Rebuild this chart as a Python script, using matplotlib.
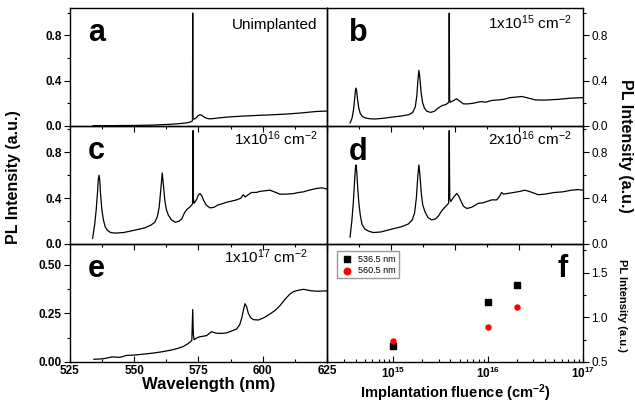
import matplotlib
matplotlib.use('Agg')
import matplotlib.pyplot as plt
from matplotlib.ticker import MultipleLocator, NullFormatter, LogLocator, FixedLocator

plt.rcParams['font.family'] = ['Liberation Sans', 'DejaVu Sans']
plt.rcParams['mathtext.default'] = 'regular'

# PL spectra: wavelength (nm), intensity (a.u.)
wl_a = [534.0, 540.0, 545.0, 551.0, 555.0, 558.0, 561.0, 564.0, 566.5, 568.5, 570.5, 571.8,
        572.65, 572.75, 572.85, 573.2, 574.0, 574.8, 575.6, 576.4, 577.4, 578.5, 579.5, 581.0,
        583.0, 587.0, 592.0, 597.6, 603.0, 609.0, 615.0, 618.0, 621.0, 625.0]
pl_a = [0.003, 0.003, 0.004, 0.005, 0.007, 0.009, 0.012, 0.015, 0.019, 0.023, 0.028, 0.035,
        0.045, 0.995, 0.070, 0.060, 0.070, 0.090, 0.100, 0.092, 0.075, 0.066, 0.063, 0.066,
        0.072, 0.080, 0.087, 0.093, 0.098, 0.105, 0.115, 0.122, 0.128, 0.132]

wl_b = [534.0, 534.8, 535.4, 535.8, 536.1, 536.3, 536.6, 536.9, 537.4, 538.0, 538.8, 540.0,
        542.0, 544.0, 547.0, 550.3, 554.0, 557.0, 558.5, 559.5, 560.1, 560.5, 560.9, 561.3,
        561.7, 562.3, 563.0, 564.0, 565.5, 567.0, 568.5, 570.0, 571.5, 572.6, 572.75, 572.9,
        573.2, 574.5, 575.6, 576.8, 578.3, 580.0, 582.0, 585.0, 587.0, 589.3, 592.0, 594.0,
        596.5, 599.0, 601.0, 603.0, 606.3, 610.0, 615.4, 620.0, 625.0]
pl_b = [0.026, 0.07, 0.15, 0.24, 0.31, 0.334, 0.31, 0.24, 0.16, 0.11, 0.085, 0.07,
        0.063, 0.062, 0.068, 0.078, 0.088, 0.10, 0.12, 0.17, 0.27, 0.40, 0.49, 0.42,
        0.31, 0.21, 0.16, 0.13, 0.12, 0.13, 0.16, 0.18, 0.19, 0.21, 0.995, 0.23,
        0.21, 0.225, 0.24, 0.22, 0.195, 0.195, 0.20, 0.215, 0.21, 0.225, 0.23, 0.235,
        0.25, 0.255, 0.26, 0.25, 0.23, 0.228, 0.235, 0.245, 0.25]

wl_c = [533.8, 534.6, 535.2, 535.7, 536.0, 536.3, 536.6, 536.9, 537.4, 538.0, 538.7, 539.5,
        540.8, 542.5, 545.8, 548.0, 551.0, 554.0, 556.5, 558.0, 559.0, 559.7, 560.3, 560.9,
        561.4, 561.9, 562.5, 563.3, 564.5, 566.0, 567.5, 568.5, 569.5, 570.4, 571.5, 572.7,
        572.85, 573.0, 573.3, 574.3, 575.0, 575.6, 576.3, 577.0, 578.0, 579.5, 581.0, 582.5,
        584.0, 586.0, 588.0, 589.8, 591.5, 592.4, 593.2, 594.0, 595.7, 597.5, 599.0, 601.0,
        602.8, 604.5, 606.7, 609.0, 611.9, 614.0, 615.8, 618.0, 621.0, 623.0, 625.0]
pl_c = [0.05, 0.17, 0.30, 0.45, 0.56, 0.60, 0.55, 0.43, 0.30, 0.21, 0.15, 0.12,
        0.10, 0.095, 0.10, 0.11, 0.125, 0.14, 0.165, 0.19, 0.24, 0.32, 0.47, 0.62,
        0.50, 0.38, 0.30, 0.25, 0.21, 0.19, 0.20, 0.22, 0.27, 0.30, 0.32, 0.35,
        0.99, 0.40, 0.355, 0.39, 0.43, 0.44, 0.42, 0.38, 0.34, 0.315, 0.32, 0.34,
        0.35, 0.365, 0.375, 0.385, 0.40, 0.43, 0.41, 0.425, 0.45, 0.45, 0.46, 0.465,
        0.47, 0.455, 0.435, 0.435, 0.44, 0.45, 0.455, 0.47, 0.485, 0.49, 0.48]

wl_d = [534.0, 534.7, 535.3, 535.8, 536.1, 536.3, 536.6, 536.9, 537.4, 538.0, 538.7, 539.8,
        541.5, 543.1, 546.0, 550.3, 554.0, 556.8, 558.3, 559.2, 559.9, 560.5, 560.9, 561.3,
        561.8, 562.4, 563.3, 564.5, 565.9, 567.5, 568.7, 569.8, 571.0, 572.5, 572.75, 572.95,
        573.3, 574.5, 575.6, 576.4, 577.2, 578.3, 579.6, 581.5, 584.1, 586.0, 588.0, 589.3,
        591.3, 592.5, 593.2, 594.0, 595.2, 598.0, 600.5, 602.3, 604.5, 607.6, 610.0, 614.0,
        617.0, 620.6, 623.0, 625.0]
pl_d = [0.06, 0.20, 0.37, 0.56, 0.66, 0.69, 0.64, 0.52, 0.37, 0.25, 0.17, 0.13,
        0.11, 0.10, 0.105, 0.13, 0.15, 0.175, 0.21, 0.27, 0.40, 0.60, 0.69, 0.60,
        0.45, 0.34, 0.28, 0.23, 0.21, 0.22, 0.25, 0.29, 0.32, 0.356, 0.99, 0.40,
        0.37, 0.41, 0.44, 0.42, 0.38, 0.33, 0.31, 0.32, 0.355, 0.36, 0.375, 0.385,
        0.385, 0.42, 0.45, 0.435, 0.44, 0.45, 0.46, 0.47, 0.455, 0.43, 0.435, 0.45,
        0.455, 0.47, 0.475, 0.47]

wl_e = [534.3, 536.0, 538.0, 540.0, 541.2, 543.0, 544.5, 546.0, 547.0, 549.0, 551.0, 554.0,
        557.4, 560.5, 563.9, 567.0, 569.1, 571.0, 572.4, 572.75, 573.0, 573.3, 574.5, 575.6,
        577.0, 578.2, 579.3, 580.1, 581.0, 582.0, 584.0, 586.0, 588.0, 589.8, 591.0, 591.9,
        592.6, 593.1, 593.7, 594.4, 595.3, 596.3, 598.3, 600.5, 602.8, 604.8, 606.7, 608.5,
        610.6, 612.0, 613.5, 615.8, 617.5, 619.0, 621.0, 623.0, 625.0]
pl_e = [0.014, 0.015, 0.017, 0.022, 0.026, 0.025, 0.024, 0.030, 0.034, 0.035, 0.037, 0.041,
        0.046, 0.052, 0.060, 0.070, 0.080, 0.095, 0.110, 0.270, 0.140, 0.115, 0.125, 0.130,
        0.133, 0.136, 0.148, 0.156, 0.152, 0.148, 0.147, 0.150, 0.160, 0.170, 0.190, 0.230,
        0.275, 0.300, 0.285, 0.250, 0.228, 0.218, 0.216, 0.228, 0.247, 0.265, 0.290, 0.320,
        0.350, 0.362, 0.368, 0.374, 0.370, 0.366, 0.364, 0.365, 0.366]

# panel f: peak intensity vs implantation fluence
fluence = [1e15, 1e16, 2e16]
pl_5365 = [0.68, 1.17, 1.36]
pl_5605 = [0.74, 0.89, 1.11]

W, H = 635, 407
fig = plt.figure(figsize=(W / 100, H / 100), dpi=100)


def box(x0, y0, x1, y1):
    return [x0 / W, 1 - y1 / H, (x1 - x0) / W, (y1 - y0) / H]


def frame(ax):
    ax.patch.set_visible(False)
    for s in ax.spines.values():
        s.set_linewidth(1.0)
    ax.tick_params(which='both', direction='out', width=0.8, labelsize=8.5, pad=2)
    ax.tick_params(which='major', length=4)
    ax.tick_params(which='minor', length=2.5)


def spectrum(rect, wl, pl, ylim, ymaj, ymin, right, xlabels=False):
    ax = fig.add_axes(rect)
    frame(ax)
    ax.plot(wl, pl, color='black', lw=0.9)
    ax.set_xlim(525, 625)
    ax.set_ylim(*ylim)
    ax.xaxis.set_major_locator(MultipleLocator(25))
    ax.xaxis.set_minor_locator(MultipleLocator(12.5))
    ax.yaxis.set_major_locator(MultipleLocator(ymaj))
    ax.yaxis.set_minor_locator(MultipleLocator(ymin))
    ax.tick_params(axis='x', labelbottom=xlabels)
    if right:
        ax.yaxis.tick_right()
        ax.tick_params(axis='y', left=False, labelleft=False)
    return ax


def bold_ticks(ax, axis):
    labels = ax.get_xticklabels() if axis == 'x' else ax.get_yticklabels()
    for t in labels:
        t.set_fontweight('bold')


ax_a = spectrum(box(70, 8, 327, 126), wl_a, pl_a, (0, 1.04), 0.4, 0.2, False)
ax_b = spectrum(box(327, 8, 583, 126), wl_b, pl_b, (0, 1.04), 0.4, 0.2, True)
ax_c = spectrum(box(70, 126, 327, 244), wl_c, pl_c, (0, 1.03), 0.4, 0.2, False)
ax_d = spectrum(box(327, 126, 583, 244), wl_d, pl_d, (0, 1.03), 0.4, 0.2, True)
ax_e = spectrum(box(70, 244, 327, 362), wl_e, pl_e, (0, 0.607), 0.25, 0.125, False, True)
ax_e.yaxis.set_major_formatter(plt.FormatStrFormatter('%.2f'))
ax_e.tick_params(axis='x', which='both', direction='in', pad=2.5)
for ax in (ax_a, ax_c, ax_e):
    bold_ticks(ax, 'y')
bold_ticks(ax_e, 'x')

ax_f = fig.add_axes(box(327, 244, 583, 362))
frame(ax_f)
ax_f.set_xscale('log')
ax_f.scatter(fluence, pl_5365, marker='s', s=13, color='black', label='536.5 nm', zorder=3)
ax_f.scatter(fluence, pl_5605, marker='o', s=13, color='red', label='560.5 nm', zorder=3)
ax_f.set_xlim(2e14, 1e17)
ax_f.set_ylim(0.5, 1.82)
ax_f.xaxis.set_major_locator(FixedLocator([1e15, 1e16, 1e17]))
ax_f.xaxis.set_minor_locator(LogLocator(base=10, subs=range(2, 10)))
ax_f.xaxis.set_minor_formatter(NullFormatter())
ax_f.set_xticklabels(['$10^{15}$', '$10^{16}$', '$10^{17}$'], fontweight='bold')
ax_f.tick_params(axis='x', which='both', direction='in', pad=2.5)
ax_f.yaxis.set_major_locator(MultipleLocator(0.5))
ax_f.yaxis.set_minor_locator(MultipleLocator(0.25))
ax_f.yaxis.set_major_formatter(plt.FormatStrFormatter('%.1f'))
ax_f.yaxis.tick_right()
ax_f.legend(loc='upper left', bbox_to_anchor=(0.02, 0.975), fontsize=6.5, frameon=True,
            fancybox=False, edgecolor='#999999', borderpad=0.35, handletextpad=0.5,
            labelspacing=0.25, markerscale=1.3, framealpha=1, handlelength=1.5)

# panel letters and fluence labels
letters = [('a', 88, 41), ('b', 349, 41), ('c', 88, 159), ('d', 349, 160),
           ('e', 88, 277), ('f', 558, 277)]
for s, x, y in letters:
    fig.text(x / W, 1 - y / H, s, fontsize=22, fontweight='bold', va='baseline')

notes = [('Unimplanted', 317, 29), ('1x10$^{15}$ cm$^{-2}$', 572, 29),
         ('1x10$^{16}$ cm$^{-2}$', 318, 145), ('2x10$^{16}$ cm$^{-2}$', 572, 145),
         ('1x10$^{17}$ cm$^{-2}$', 308, 263)]
for s, x, y in notes:
    fig.text(x / W, 1 - y / H, s, fontsize=11, ha='right', va='baseline')

fig.text(14 / W, 1 - 177 / H, 'PL Intensity (a.u.)', rotation=90, fontsize=11.5,
         fontweight='bold', ha='center', va='center')
fig.text(626 / W, 1 - 146 / H, 'PL Intensity (a.u.)', rotation=-90, fontsize=11.5,
         fontweight='bold', ha='center', va='center')
fig.text(622 / W, 1 - 305 / H, 'PL Intensity (a.u.)', rotation=-90, fontsize=8,
         fontweight='bold', ha='center', va='center')
fig.text(209 / W, 1 - 384 / H, 'Wavelength (nm)', fontsize=12, fontweight='bold',
         ha='center', va='center')
fig.text(455 / W, 1 - 393 / H, 'Implantation fluence (cm$^{-2}$)', fontsize=10.5,
         fontweight='bold', ha='center', va='center')

fig.savefig('out.png', dpi=100)
